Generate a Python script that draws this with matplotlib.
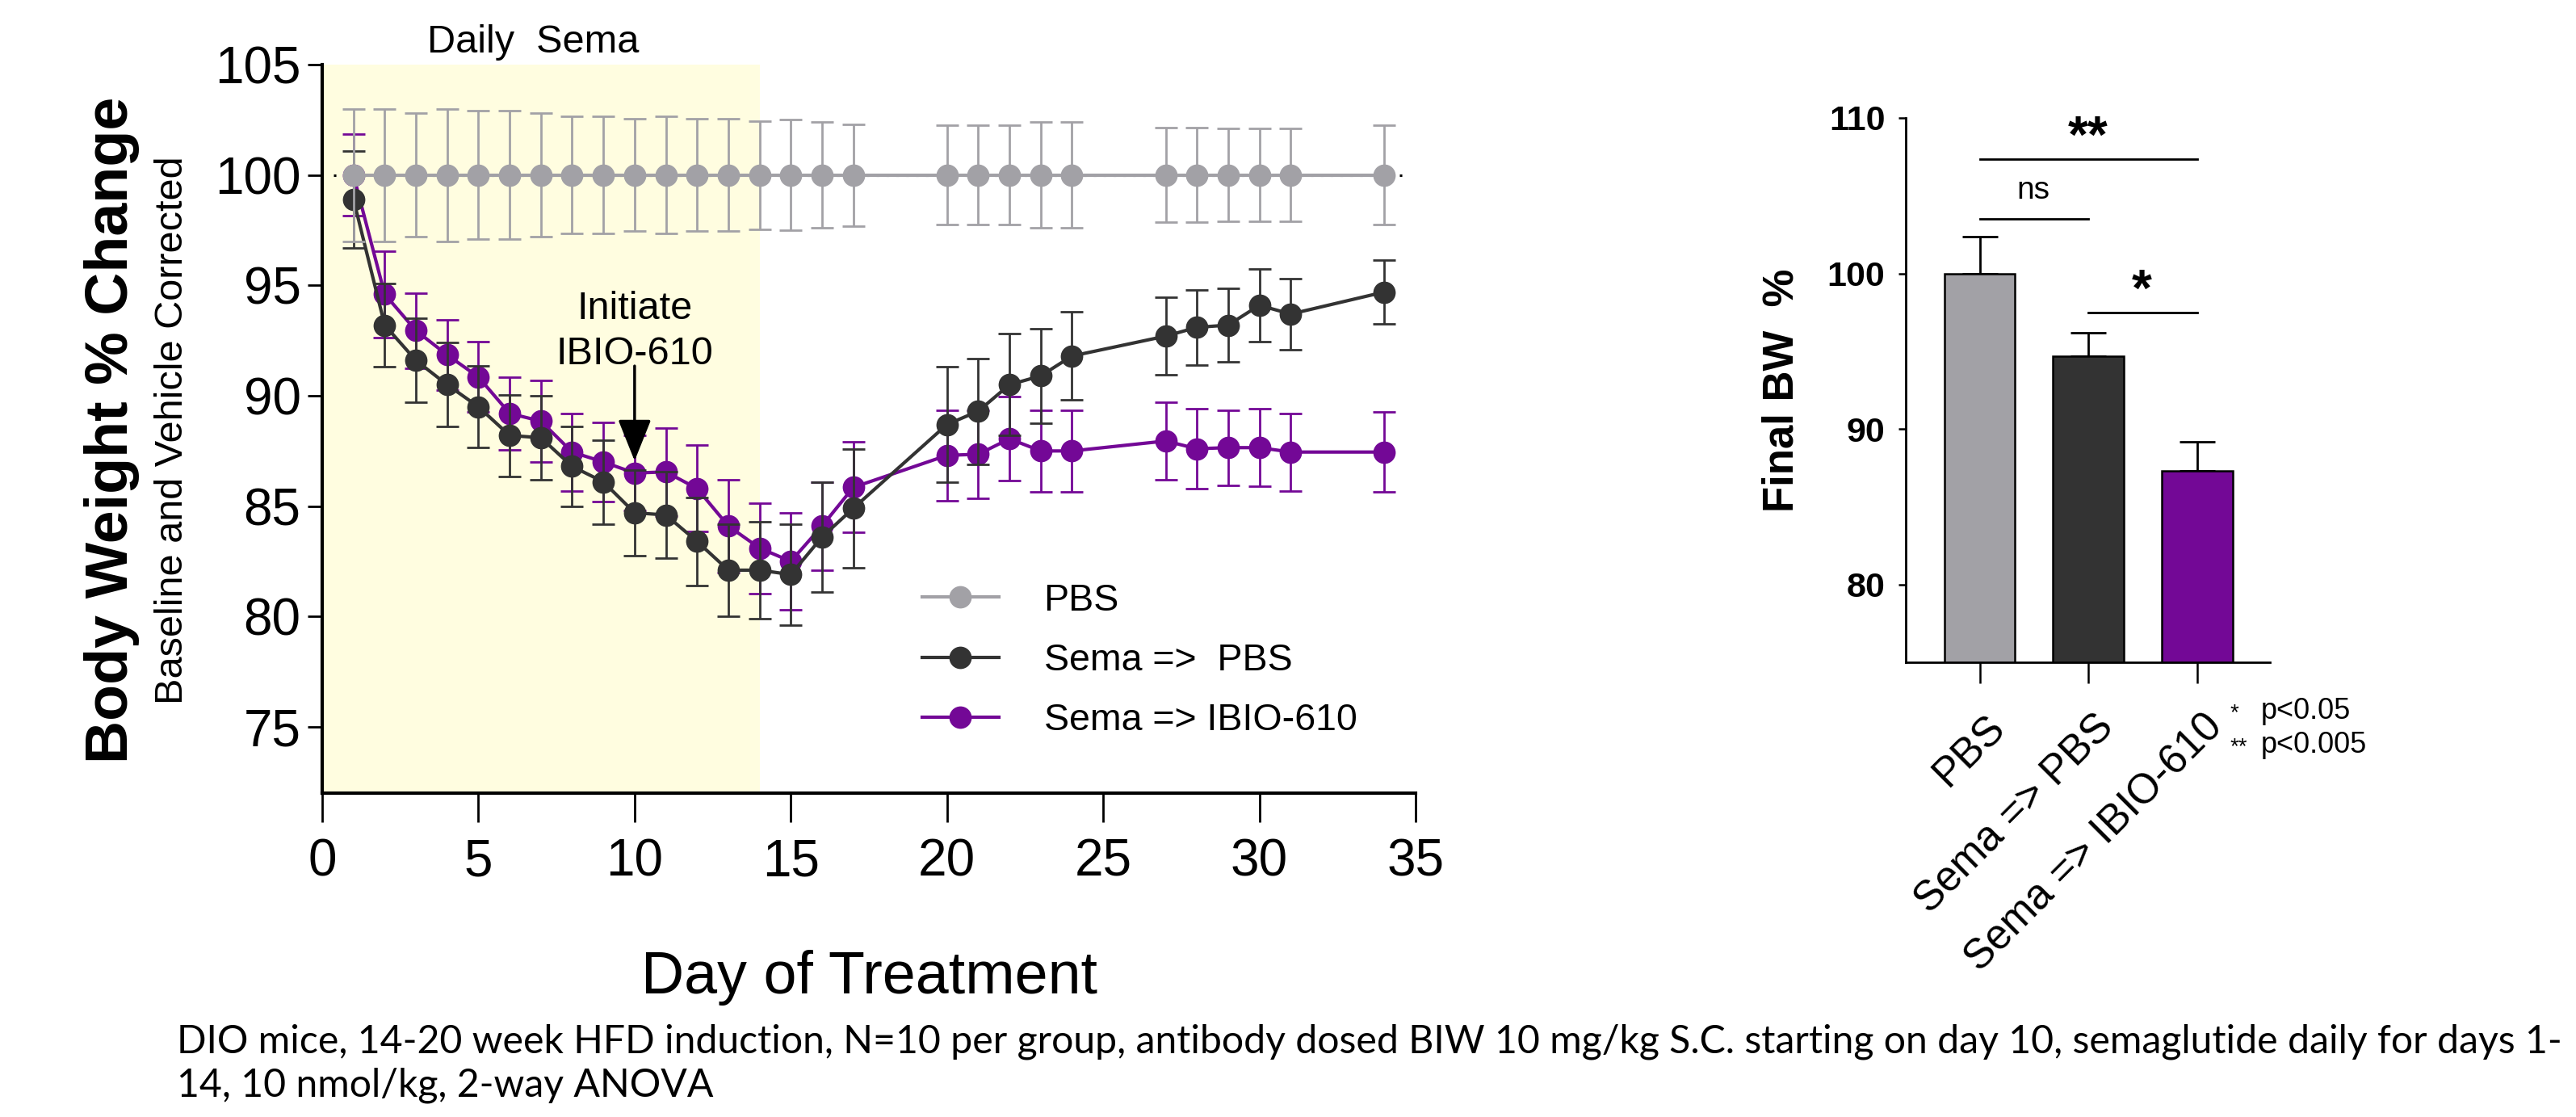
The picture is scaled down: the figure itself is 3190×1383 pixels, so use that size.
import matplotlib
matplotlib.use('Agg')
import matplotlib.pyplot as plt
import matplotlib.transforms as mtransforms
from matplotlib.lines import Line2D

plt.rcParams['font.family'] = 'Liberation Sans'

# time course data (mean +/- SEM)
days = [1, 2, 3, 4, 5, 6, 7, 8, 9, 10, 11, 12, 13, 14, 15, 16, 17,
        20, 21, 22, 23, 24, 27, 28, 29, 30, 31, 34]
pbs_mean = [100.0] * 28
pbs_err = [3.0, 3.0, 2.8, 3.0, 2.9, 2.9, 2.8, 2.65, 2.65, 2.55, 2.65, 2.55, 2.55, 2.45,
           2.5, 2.4, 2.3, 2.25, 2.25, 2.25, 2.4, 2.4, 2.15, 2.15, 2.1, 2.1, 2.1, 2.25]
sema_pbs_mean = [98.9, 93.2, 91.6, 90.5, 89.5, 88.2, 88.1, 86.8, 86.1, 84.7, 84.6, 83.4, 82.1, 82.1,
                 81.9, 83.6, 84.9, 88.7, 89.3, 90.5, 90.9, 91.8, 92.7, 93.1, 93.2, 94.1, 93.7, 94.7]
sema_pbs_err = [2.2, 1.9, 1.9, 1.9, 1.85, 1.85, 1.9, 1.8, 1.9, 1.95, 1.95, 2.0, 2.1, 2.2,
                2.3, 2.5, 2.7, 2.6, 2.4, 2.3, 2.15, 2.0, 1.75, 1.7, 1.65, 1.65, 1.6, 1.45]
sema_ibio_mean = [100.0, 94.6, 92.95, 91.85, 90.85, 89.2, 88.85, 87.45, 87.0, 86.5, 86.55, 85.8, 84.1, 83.1,
                  82.5, 84.1, 85.85, 87.3, 87.35, 88.05, 87.5, 87.5, 87.95, 87.6, 87.65, 87.65, 87.45, 87.45]
sema_ibio_err = [1.85, 1.95, 1.7, 1.6, 1.6, 1.65, 1.85, 1.75, 1.8, 1.7, 2.0, 1.95, 2.1, 2.05,
                 2.2, 2.0, 2.05, 2.05, 2.0, 1.9, 1.85, 1.85, 1.75, 1.8, 1.7, 1.75, 1.75, 1.8]
series_labels = ['PBS', 'Sema =>  PBS', 'Sema => IBIO-610']

# final body weight bars
groups = ['PBS', 'Sema => PBS', 'Sema => IBIO-610']
final_mean = [100.0, 94.7, 87.3]
final_err = [2.35, 1.5, 1.9]

GREY = '#a2a1a6'
DARK = '#333333'
PURPLE = '#730896'

fig = plt.figure(figsize=(31.9, 13.83), dpi=100)

# ---- left: time course ----
ax = fig.add_axes([0.12508, 0.28995, 0.42445, 0.65221])
ax.axvspan(0, 14, color='#fffde0', zorder=0, lw=0)
ax.hlines(100, 0.35, 34.65, colors='black', linestyles=(0, (1, 3)), lw=2.2, zorder=1.5)

series = [(sema_ibio_mean, sema_ibio_err, PURPLE, 3),
          (sema_pbs_mean, sema_pbs_err, DARK, 4),
          (pbs_mean, pbs_err, GREY, 5)]
for mean, err, col, z in series:
    eb = ax.errorbar(days, mean, yerr=err, fmt='o-', color=col, ms=20, lw=3,
                     elinewidth=2, capsize=10, capthick=2, zorder=z)
    eb[0].set_markeredgewidth(0)
    for cap in eb[1]:
        cap.set_markeredgewidth(2)

ax.set_xlim(0, 35)
ax.set_ylim(72, 105)
ax.set_xticks(range(0, 36, 5))
ax.set_yticks(range(75, 106, 5))
for s in ['top', 'right']:
    ax.spines[s].set_visible(False)
for s in ['left', 'bottom']:
    ax.spines[s].set_linewidth(3)
ax.tick_params(axis='x', length=26, width=2, pad=14, labelsize=46)
ax.tick_params(axis='y', length=13, width=2, pad=6, labelsize=46)

ax.text(6.75, 105.55, 'Daily  Sema', ha='center', va='baseline', fontsize=35, clip_on=False)
ax.text(10.0, 93.46, 'Initiate', ha='center', va='baseline', fontsize=35)
ax.text(10.0, 91.43, 'IBIO-610', ha='center', va='baseline', fontsize=35)
ax.annotate('', xy=(10, 87.05), xytext=(10, 91.35),
            arrowprops=dict(arrowstyle='-|>,head_length=1.0,head_width=0.4', mutation_scale=32,
                            lw=2.5, color='black', shrinkA=0, shrinkB=0), zorder=6)

handles = [Line2D([], [], color=c, marker='o', ms=20, mew=0, lw=3) for c in [GREY, DARK, PURPLE]]
ax.legend(handles, series_labels, loc='center left', bbox_to_anchor=(19.2, 78.0),
          bbox_transform=ax.transData, frameon=False, fontsize=33.5, borderpad=0,
          borderaxespad=0, handlelength=2.04, handletextpad=1.2, labelspacing=0.65)

fig.text(0.3376, 0.1106, 'Day of Treatment', ha='center', va='baseline', fontsize=53)
fig.text(0.0435, 0.615, 'Body Weight % Change', rotation=90, ha='center', va='center',
         fontsize=53, fontweight='bold')
fig.text(0.0668, 0.615, 'Baseline and Vehicle Corrected', rotation=90, ha='center', va='center',
         fontsize=35)

# ---- right: final bars ----
bx = fig.add_axes([0.73981, 0.40709, 0.14138, 0.48735])
xpos = list(range(len(groups)))
bx.bar(xpos, final_mean, width=0.65, color=[GREY, DARK, PURPLE], edgecolor='black', lw=1.8, zorder=2)
bx.errorbar(xpos, final_mean, yerr=[[0] * 3, final_err], fmt='none', ecolor='black', elinewidth=2,
            capsize=15.5, capthick=2, zorder=1)
bx.set_xlim(-0.68, 2.67)
bx.set_ylim(75, 110)
bx.set_yticks([80, 90, 100, 110])
for s in ['top', 'right']:
    bx.spines[s].set_visible(False)
for s in ['left', 'bottom']:
    bx.spines[s].set_linewidth(2)
bx.tick_params(axis='y', length=6.5, width=1.8, pad=12, labelsize=31)
for lab in bx.get_yticklabels():
    lab.set_fontweight('bold')
bx.tick_params(axis='x', length=19, width=1.8, pad=21)
bx.set_xticks(xpos)
bx.set_xticklabels(groups, rotation=45, ha='right', va='top', rotation_mode='anchor', fontsize=37)
shift = mtransforms.ScaledTranslation(5 / 72, 0, fig.dpi_scale_trans)
for lab in bx.get_xticklabels():
    lab.set_transform(lab.get_transform() + shift)

# significance brackets
bx.plot([0, 2], [107.33, 107.33], color='black', lw=2, clip_on=False)
bx.plot([0, 1], [103.49, 103.49], color='black', lw=2, clip_on=False)
bx.plot([1, 2], [97.5, 97.5], color='black', lw=2, clip_on=False)
bx.text(1.0, 107.8, '**', ha='center', va='baseline', fontsize=46, fontweight='bold', clip_on=False)
bx.text(0.49, 104.8, 'ns', ha='center', va='baseline', fontsize=28, clip_on=False)
bx.text(1.49, 97.9, '*', ha='center', va='baseline', fontsize=46, fontweight='bold', clip_on=False)

fig.text(0.6918, 0.6508, 'Final BW  %', rotation=90, ha='center', va='center', fontsize=38,
         fontweight='bold')

fig.text(2762 / 3190, 0.3565, '*', ha='left', va='baseline', fontsize=20)
fig.text(2800 / 3190, 0.3565, 'p<0.05', ha='left', va='baseline', fontsize=26)
fig.text(2762 / 3190, 0.326, '**', ha='left', va='baseline', fontsize=20)
fig.text(2800 / 3190, 0.326, 'p<0.005', ha='left', va='baseline', fontsize=26)

# caption
cap1 = fig.text(219 / 3190, 1 - 1304 / 1383,
                'DIO mice, 14-20 week HFD induction, N=10 per group, antibody dosed BIW 10 mg/kg S.C. '
                'starting on day 10, semaglutide daily for days 1-',
                ha='left', va='baseline', fontsize=27, family='Lato')
cap2 = fig.text(219 / 3190, 1 - 1357 / 1383, '14, 10 nmol/kg, 2-way ANOVA',
                ha='left', va='baseline', fontsize=27, family='Lato')
fig.canvas.draw()
w = cap1.get_window_extent().width
fs = 27 * 2959 / w
cap1.set_fontsize(fs)
cap2.set_fontsize(fs)

fig.savefig('out.png', dpi=100)
